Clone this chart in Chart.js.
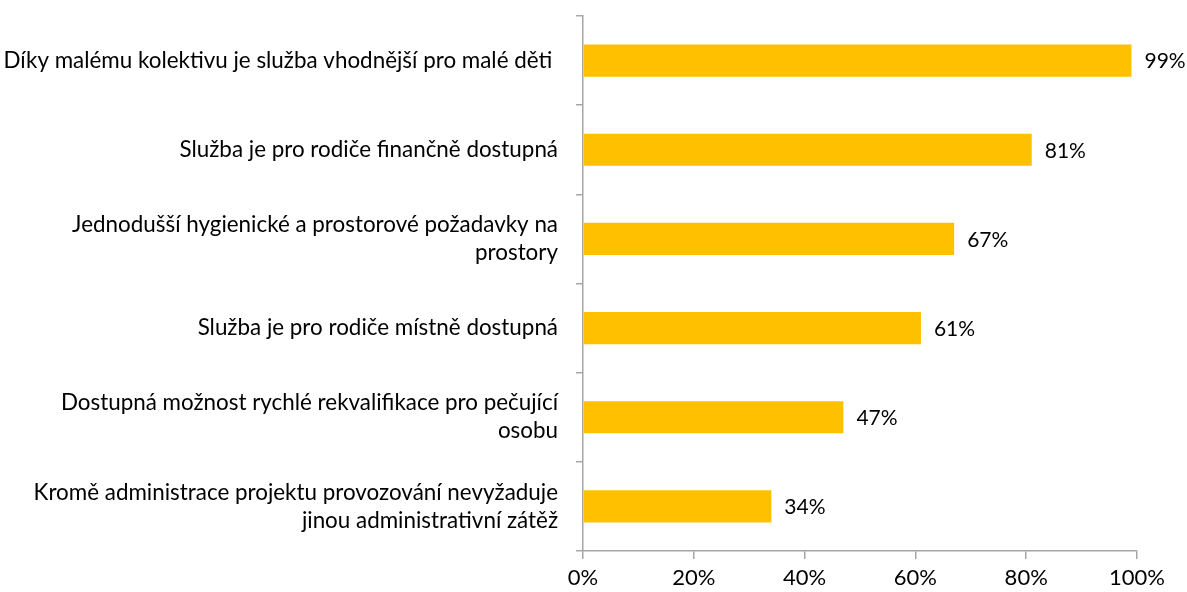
<!DOCTYPE html>
<html>
<head>
<meta charset="utf-8">
<script src="https://cdn.jsdelivr.net/npm/chart.js@4"></script>
<style>
  html, body { margin: 0; padding: 0; background: #fff; }
  #wrap { width: 1187px; height: 592px; position: relative; }
</style>
</head>
<body>
<div id="wrap"><canvas id="graf"></canvas></div>
<script>
// popisky kategorií (shora dolů), zalomené jako v originále
const kategorie = [
    ['Díky malému kolektivu je služba vhodnější pro malé děti '],
    ['Služba je pro rodiče finančně dostupná'],
    ['Jednodušší hygienické a prostorové požadavky na', 'prostory'],
    ['Služba je pro rodiče místně dostupná'],
    ['Dostupná možnost rychlé rekvalifikace pro pečující', 'osobu'],
    ['Kromě administrace projektu provozování nevyžaduje', 'jinou administrativní zátěž']
];
const hodnoty = [99, 81, 67, 61, 47, 34];
const osaTicks = [0, 20, 40, 60, 80, 100];

const pismo = 'Lato, "Open Sans", sans-serif';
const barvaOsy = '#a6a6a6';

// vlastní plugin na popisky hodnot za koncem sloupce
const popiskyHodnot = {
    id: 'popiskyHodnot',
    afterDatasetsDraw(chart) {
        const ctx = chart.ctx;
        const meta = chart.getDatasetMeta(0);
        ctx.save();
        ctx.font = '21px ' + pismo;
        ctx.fillStyle = '#000';
        ctx.textAlign = 'left';
        ctx.textBaseline = 'middle';
        meta.data.forEach((bar, i) => {
            ctx.fillText(hodnoty[i] + '%', bar.x + 13, bar.y + 1);
        });
        ctx.restore();
    }
};

new Chart(document.getElementById('graf'), {
    type: 'bar',
    data: {
        labels: kategorie,
        datasets: [{
            data: hodnoty,
            backgroundColor: '#ffc000',
            borderWidth: 0,
            barPercentage: 0.6,
            categoryPercentage: 0.6
        }]
    },
    options: {
        indexAxis: 'y',
        responsive: true,
        maintainAspectRatio: false,
        animation: false,
        layout: { padding: { top: 16, right: 50, left: 0, bottom: 0 } },
        plugins: {
            legend: { display: false },
            tooltip: { enabled: false }
        },
        scales: {
            x: {
                min: 0,
                max: 100,
                afterBuildTicks: scale => { scale.ticks = osaTicks.map(v => ({ value: v })); },
                afterFit: scale => { scale.height = 41; },
                border: { color: barvaOsy, width: 1.5 },
                grid: { display: true, drawOnChartArea: false, color: barvaOsy, tickLength: 8, lineWidth: 1.5 },
                ticks: {
                    color: '#000',
                    padding: 6,
                    font: { family: pismo, size: 22 },
                    callback: v => v + '%'
                }
            },
            y: {
                afterFit: scale => {
                    scale.width = 583;
                    scale.paddingTop = 0;
                    scale.paddingBottom = 0;
                },
                border: { color: barvaOsy, width: 1.5 },
                grid: { display: true, drawOnChartArea: false, color: barvaOsy, tickLength: 7, lineWidth: 1.5, offset: true },
                ticks: {
                    color: '#000',
                    padding: 18,
                    font: { family: pismo, size: 22.4, lineHeight: 1.25 }
                }
            }
        }
    },
    plugins: [popiskyHodnot]
});
</script>
</body>
</html>
